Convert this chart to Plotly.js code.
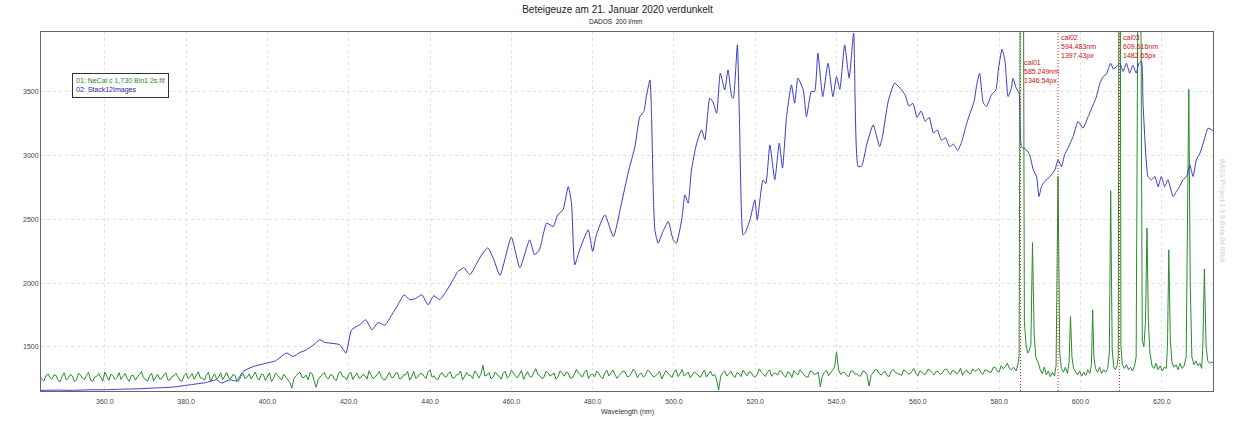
<!DOCTYPE html>
<html>
<head>
<meta charset="utf-8">
<script src="https://cdn.plot.ly/plotly-3.0.1.min.js"></script>
<style>html,body{margin:0;padding:0;background:#fff;}#chart{width:1235px;height:423px;}</style>
</head>
<body>
<div id="chart"></div>
<script>
// ---- Data ----
const chartTitle = 'Beteigeuze am 21. Januar 2020 verdunkelt';
const chartSubtitle = 'DADOS&nbsp;&nbsp;200 l/mm';
const seriesNames = ['01: NeCal c 1,730 Bin1 2s.fit', '02: Stack12Images'];
const xTickVals = [360, 380, 400, 420, 440, 460, 480, 500, 520, 540, 560, 580, 600, 620];
const xTickText = ['360.0','380.0','400.0','420.0','440.0','460.0','480.0','500.0','520.0','540.0','560.0','580.0','600.0','620.0'];
const yTickVals = [1500, 2000, 2500, 3000, 3500];

// Green (Ne calibration) baseline, sampled every 0.5 nm from 344 nm to 583.5 nm
const greenGridStart = 344;
const greenGridStep = 0.5;
const greenBaseline = [
 1262,1245,1231,1270,1288,1258,1247,1279,1275,1236,1224,1266,1296,1240,1252,1283,1270,1228,1238,1291,
 1281,1253,1244,1276,1299,1237,1229,1262,1268,1290,1255,1231,1302,1269,1236,1284,1274,1243,1259,1297,
 1243,1268,1290,1251,1228,1273,1277,1239,1262,1286,1306,1257,1241,1230,1269,1294,1233,1261,1285,1246,
 1250,1278,1297,1239,1238,1267,1272,1292,1259,1233,1231,1274,1293,1250,1266,1289,1245,1271,1304,1254,
 1256,1238,1279,1300,1227,1262,1288,1247,1263,1295,1242,1270,1298,1255,1251,1281,1276,1229,1234,1267,
 1291,1249,1260,1288,1247,1273,1302,1258,1239,1284,1281,1236,1268,1296,1226,1252,1295,1275,1253,1240,
 1284,1263,1246,1221,1175,1248,1273,1290,1301,1261,1257,1278,1240,1299,1289,1232,1182,1245,1265,1287,
 1299,1258,1248,1281,1276,1243,1236,1294,1305,1267,1262,1240,1283,1301,1244,1270,1293,1255,1258,1285,
 1271,1246,1312,1279,1249,1263,1287,1306,1266,1242,1241,1274,1300,1260,1259,1293,1295,1248,1253,1281,
 1279,1307,1238,1265,1308,1252,1264,1289,1290,1270,1250,1303,1319,1261,1272,1247,1245,1284,1296,1268,
 1262,1292,1303,1255,1257,1280,1284,1310,1241,1266,1298,1276,1274,1251,1311,1289,1256,1282,1355,1270,
 1278,1297,1249,1263,1301,1285,1268,1246,1292,1309,1253,1272,1316,1290,1271,1255,1287,1314,1245,1279,
 1304,1267,1262,1296,1329,1283,1275,1251,1258,1307,1297,1270,1281,1293,1246,1265,1312,1288,1269,1301,
 1293,1254,1257,1284,1322,1296,1276,1262,1300,1318,1251,1279,1287,1263,1309,1292,1264,1248,1295,1315,
 1271,1299,1318,1280,1253,1274,1289,1311,1302,1266,1267,1290,1325,1305,1258,1283,1294,1261,1279,1316,
 1306,1288,1262,1272,1290,1308,1248,1281,1313,1294,1277,1259,1299,1320,1266,1287,1321,1270,1284,1302,
 1257,1278,1302,1291,1275,1260,1292,1317,1263,1285,1310,1272,1281,1240,1160,1268,1296,1311,1270,1289,
 1307,1276,1259,1298,1288,1266,1316,1293,1273,1305,1298,1270,1262,1284,1327,1300,1285,1267,1301,1319,
 1268,1290,1295,1277,1314,1303,1276,1262,1304,1293,1258,1312,1291,1280,1320,1297,1279,1265,1262,1309,
 1306,1281,1287,1298,1185,1270,1299,1316,1273,1290,1315,1340,1460,1320,1282,1301,1297,1274,1266,1308,
 1310,1286,1288,1269,1274,1312,1303,1280,1192,1275,1296,1321,1318,1287,1279,1300,1305,1271,1268,1314,
 1322,1296,1291,1280,1276,1318,1309,1289,1285,1305,1330,1294,1272,1311,1301,1283,1288,1324,1316,1297,
 1279,1308,1304,1285,1293,1320,1326,1301,1282,1314,1310,1288,1297,1332,1275,1305,1318,1293,1290,1327,
 1306,1316,1329,1296,1284,1320,1312,1301,1298,1335,1340,1310,1301,1352,1327,1345,1372,1330,1318,1340
];
// Green emission-line region (irregular sampling)
const greenLinesWl = [583.8,584.2,584.6,584.9,585.6,586.2,586.6,587.0,587.4,587.8,588.2,588.6,589.0,589.6,590.1,590.6,591.1,591.6,592.1,592.6,593.1,593.6,594.0,594.48,594.9,595.3,595.8,596.3,596.8,597.2,597.55,597.9,598.3,598.8,599.3,599.8,600.3,600.8,601.3,601.8,602.3,602.7,603.0,603.3,603.7,604.2,604.7,605.2,605.7,606.2,606.7,607.1,607.43,607.8,608.2,608.6,609.0,609.3,609.62,609.95,610.3,610.8,611.3,611.8,612.3,612.8,613.3,613.7,614.5,615.2,615.6,616.0,616.36,616.7,617.1,617.6,618.1,618.6,619.1,619.6,620.1,620.6,621.1,621.4,621.73,622.1,622.5,623.0,623.5,624.0,624.5,625.0,625.5,626.0,626.3,626.65,627.0,627.4,627.9,628.4,628.9,629.4,629.8,630.1,630.48,630.9,631.3,631.8,632.3,632.6];
const greenLinesInt = [1325,1310,1360,1420,9000,1700,1520,1450,1470,1520,2318,1600,1420,1375,1320,1290,1340,1280,1310,1265,1300,1270,1350,2836,1450,1330,1300,1340,1290,1380,1738,1420,1330,1300,1280,1310,1270,1300,1275,1320,1290,1360,1790,1420,1330,1300,1340,1290,1320,1300,1330,1450,2726,1480,1340,1320,1350,1420,8000,1500,1360,1330,1360,1320,1340,1310,1350,1420,7000,1550,1500,1700,2431,1700,1450,1350,1330,1370,1320,1350,1310,1340,1330,1500,2261,1550,1380,1340,1360,1320,1370,1330,1350,1420,2200,3521,2000,1420,1360,1390,1350,1370,1330,1500,2110,1500,1390,1370,1380,1375];

// Blue (Betelgeuse stack)
const blueWl = [344.3,348,352,356,360,364,368,372,376.8,381,385,387.5,388.7,390.8,392.4,394,396.5,399.8,402,404.7,406.3,408,409.6,411.5,412.9,414,415.4,417.8,419.3,420.7,422.7,424.2,425.7,427.2,428.9,430.6,432.1,433.6,435.0,436.5,438.0,439.5,440.9,442.4,443.9,445.4,446.8,448.3,449.8,451.3,452.7,454.2,455.7,457.2,460,462.1,464.5,465.7,466.9,468.7,470.3,471.4,472.7,474.0,474.8,475.6,476.8,478.9,480,480.9,483,485.1,487.1,488.7,490.4,491.6,492.6,493.2,494.1,494.5,494.9,495.3,496.1,497.3,498.6,499.8,500.6,501.9,502.7,503.5,504.3,505.6,506.8,507.6,508.8,509.6,510.5,511.4,512.5,513.3,514.2,514.6,515.6,516.1,517.0,517.6,518.7,519.9,520.5,521.9,522.6,523.6,524.8,525.9,526.7,527.7,528.9,529.7,530.5,531.8,532.6,533.8,534.6,535.4,536.6,537.9,539.1,540.0,540.8,542.0,543.1,544.2,545.3,546.2,547.4,549.0,550.6,551.3,552.7,554.3,555.6,556.8,557.8,558.8,559.8,560.8,561.8,562.8,563.8,564.8,565.8,566.8,567.8,568.8,569.8,570.8,571.8,572.8,573.8,574.5,575.2,576.1,576.9,578.1,579.2,579.8,580.7,581.4,582.2,583.0,583.4,584.2,584.9,585.5,586.7,587.5,588.4,589.2,589.8,590.4,591.2,592.5,593.7,594.5,595.3,596.1,596.9,598.2,599.4,600.6,601.9,603.1,603.8,604.8,605.6,606.4,607.4,608.1,608.9,609.7,610.5,611.3,612.1,612.9,613.7,614.4,615.0,615.4,616.1,616.6,617.5,618.3,619.1,619.9,620.7,621.5,622.8,623.6,624.4,625.2,626.1,626.9,627.7,628.5,629.4,630.2,631.4,632.3,632.6];
const blueInt = [1158,1160,1158,1162,1163,1167,1170,1176,1184,1202,1220,1241,1216,1241,1232,1306,1345,1372,1390,1451,1424,1455,1476,1520,1555,1535,1529,1516,1451,1633,1673,1712,1633,1690,1670,1751,1829,1908,1869,1880,1908,1829,1900,1870,1931,2010,2088,2120,2065,2143,2222,2276,2182,2060,2360,2120,2339,2222,2260,2470,2444,2535,2575,2757,2627,2143,2261,2418,2248,2378,2535,2365,2627,2862,3071,3306,3346,3463,3594,3300,2731,2418,2313,2405,2483,2339,2313,2496,2692,2627,2888,3098,3202,3124,3451,3420,3333,3647,3516,3673,3463,3450,3869,3300,2378,2400,2496,2653,2496,2810,2780,3084,2810,3098,2902,3306,3555,3412,3608,3516,3306,3503,3503,3804,3463,3725,3463,3620,3520,3869,3608,3961,2914,2920,3084,3241,3071,3150,3425,3569,3529,3480,3390,3410,3300,3350,3270,3300,3180,3200,3120,3140,3070,3090,3040,3110,3230,3330,3420,3560,3647,3412,3386,3477,3516,3673,3835,3751,3463,3529,3608,3529,3490,3071,3045,3006,2888,2836,2679,2757,2797,2836,2888,2967,2914,3006,3058,3150,3268,3215,3306,3398,3450,3569,3620,3640,3725,3680,3699,3725,3660,3725,3647,3710,3647,3725,3738,3400,2993,2836,2810,2836,2757,2836,2757,2810,2679,2720,2757,2810,2836,2928,2836,2967,3020,3098,3215,3202,3190];

// Calibration markers
const calNames = ['cal01', 'cal02', 'cal03'];
const calWl = [585.249, 594.483, 609.616];
const calPx = ['1346.54px', '1397.43px', '1482.65px'];

// ---- Build traces ----
const greenWl = greenBaseline.map((_, i) => greenGridStart + i * greenGridStep).concat(greenLinesWl);
const greenInt = greenBaseline.concat(greenLinesInt);

const GREEN = '#2a8c2a';
const BLUE = '#3a3ac8';
const RED = '#dd2020';
const FONT = 'Liberation Sans, Arial, sans-serif';

const traces = [
  {x: greenWl, y: greenInt, type: 'scatter', mode: 'lines', name: seriesNames[0],
   line: {color: GREEN, width: 1}, hoverinfo: 'skip'},
  {x: blueWl, y: blueInt, type: 'scatter', mode: 'lines', name: seriesNames[1],
   line: {color: BLUE, width: 1, shape: 'spline', smoothing: 0.5}, hoverinfo: 'skip'}
];

const shapes = calWl.map(w => ({
  type: 'line', xref: 'x', yref: 'paper', x0: w, x1: w, y0: 0, y1: 1,
  line: {color: RED, width: 1, dash: '1px,2px'}, layer: 'above'
}));

const calY = [0.93, 1.0, 1.0];
const annotations = calWl.map((w, i) => ({
  xref: 'x', yref: 'paper', x: w, y: calY[i], xanchor: 'left', yanchor: 'top',
  xshift: 1, showarrow: false, align: 'left',
  text: calNames[i] + '<br>' + w.toFixed(3) + 'nm<br>' + calPx[i],
  font: {family: FONT, size: 7, color: '#cc1010'}
}));

annotations.push({
  xref: 'paper', yref: 'paper', x: 0.0265, y: 0.886, xanchor: 'left', yanchor: 'top',
  showarrow: false, align: 'left', bgcolor: '#ffffff', bordercolor: '#333333', borderwidth: 1, borderpad: 3,
  text: '<span style="color:#1e8a1e">' + seriesNames[0] + '</span><br><span style="color:#1c1c9c">' + seriesNames[1] + '</span>',
  font: {family: FONT, size: 7}
});
annotations.push({
  xref: 'paper', yref: 'paper', x: 0.49, y: 1.028, xanchor: 'center', yanchor: 'middle',
  showarrow: false, text: chartSubtitle, font: {family: FONT, size: 6.5, color: '#222'}
});
annotations.push({
  xref: 'paper', yref: 'paper', x: 0.5, y: -0.0585, xanchor: 'center', yanchor: 'middle',
  showarrow: false, text: 'Wavelength (nm)', font: {family: FONT, size: 7, color: '#333'}
});
annotations.push({
  xref: 'paper', yref: 'paper', x: 1.0077, y: 0.504, xanchor: 'center', yanchor: 'middle',
  showarrow: false, textangle: 90, text: 'BASS Project 1.9.8 Beta 04 64bit',
  font: {family: FONT, size: 7, color: '#cfcfcf'}
});

const layout = {
  width: 1235, height: 423,
  margin: {l: 41, r: 22, t: 32, b: 32, pad: 0},
  paper_bgcolor: '#ffffff', plot_bgcolor: '#ffffff',
  showlegend: false,
  title: {text: chartTitle, xref: 'container', x: 0.5, y: 1 - 9/423, yanchor: 'middle', xanchor: 'center',
          font: {family: FONT, size: 10, color: '#222'}},
  xaxis: {range: [344.3, 632.6], tickvals: xTickVals, ticktext: xTickText, ticks: '', ticklabelstandoff: 4,
          showgrid: true, gridcolor: '#e2e2e2', griddash: 'dot', gridwidth: 1, zeroline: false,
          showline: true, mirror: true, linecolor: '#666', linewidth: 1,
          tickfont: {family: FONT, size: 7, color: '#444'}},
  yaxis: {range: [1153, 3970], tickvals: yTickVals, ticks: '',
          showgrid: true, gridcolor: '#e2e2e2', griddash: 'dot', gridwidth: 1, zeroline: false,
          showline: true, mirror: true, linecolor: '#666', linewidth: 1,
          tickfont: {family: FONT, size: 7, color: '#444'}},
  shapes: shapes,
  annotations: annotations
};

Plotly.newPlot('chart', traces, layout, {staticPlot: true, displayModeBar: false});
</script>
</body>
</html>
